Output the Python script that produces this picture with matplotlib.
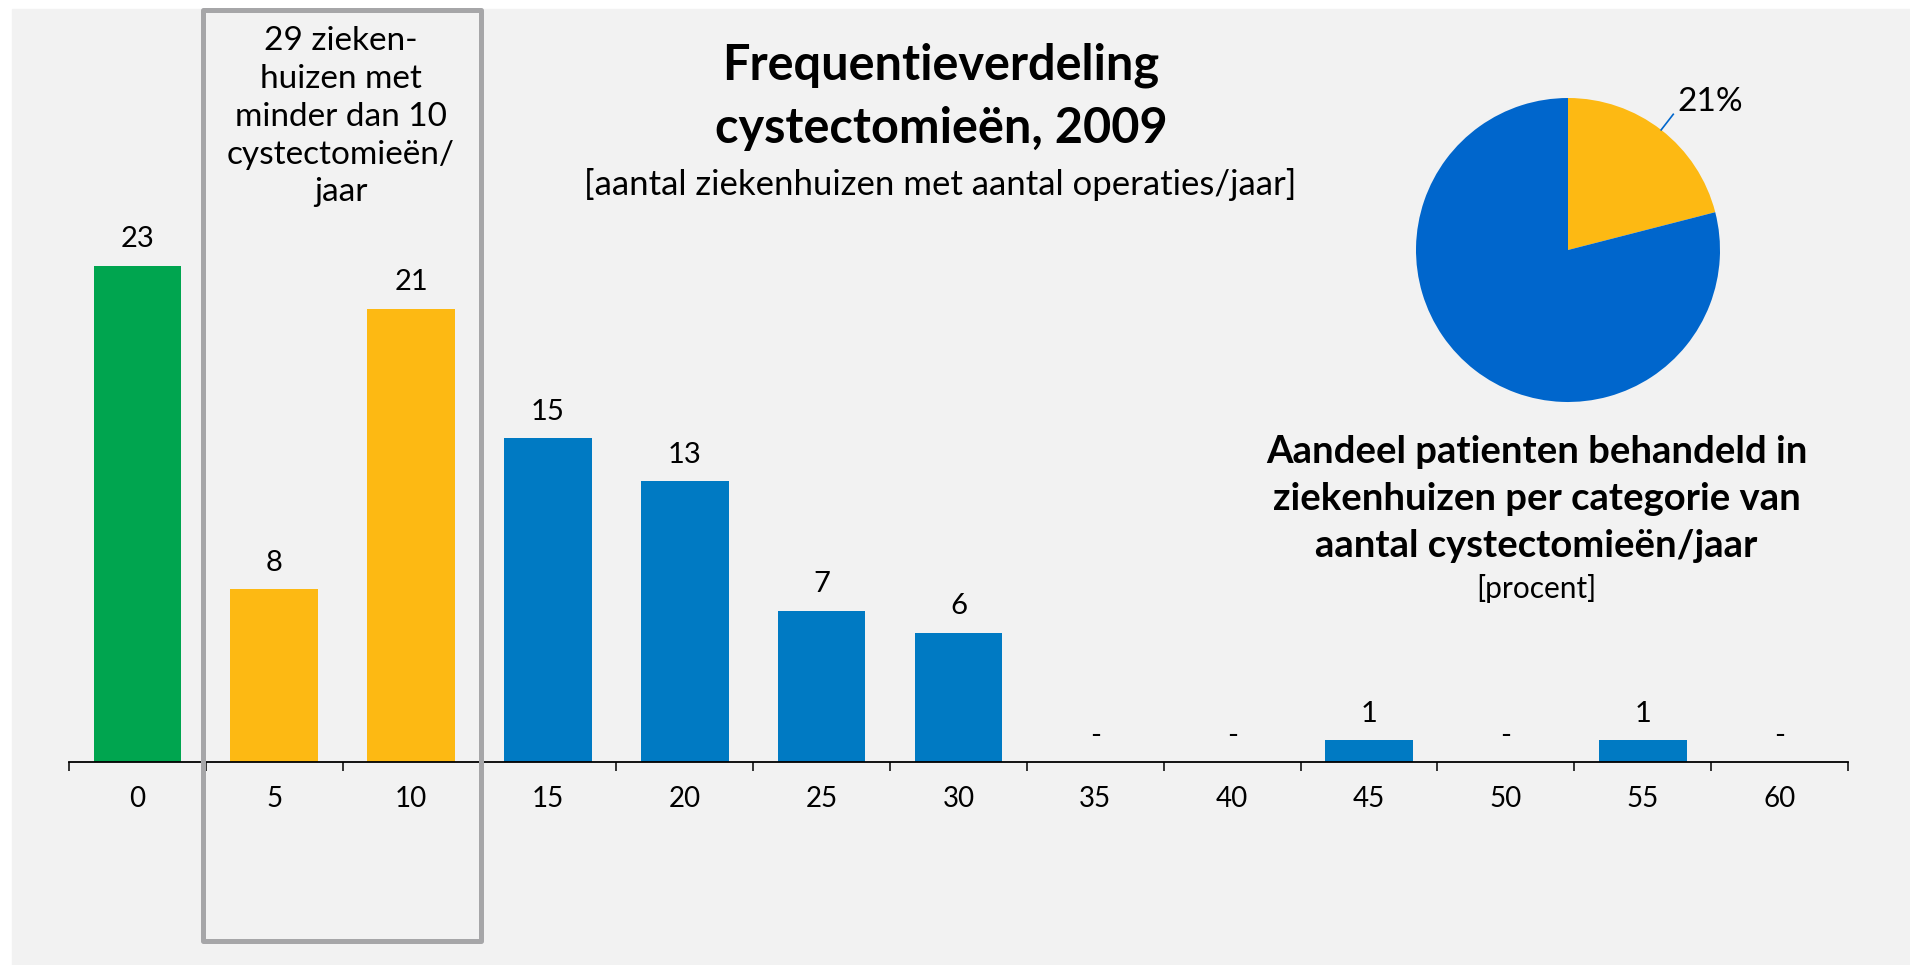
import matplotlib.pyplot as plt
import numpy as np
from matplotlib.patches import Rectangle

plt.rcParams['font.family'] = ['Lato', 'DejaVu Sans']

# Aantal ziekenhuizen per klasse van aantal cystectomieën per jaar (2009)
klassen = [0, 5, 10, 15, 20, 25, 30, 35, 40, 45, 50, 55, 60]
aantal_ziekenhuizen = [23, 8, 21, 15, 13, 7, 6, 0, 0, 1, 0, 1, 0]

# Aandeel patiënten in ziekenhuizen met < 10 resp. >= 10 cystectomieën/jaar
aandeel_labels = ['< 10', '>= 10']
aandeel_pct = [21, 79]

GROEN = '#00A54F'
GEEL = '#FDB913'
BLAUW = '#007AC3'
BLAUW_TAART = '#0066CC'
GRIJS_KADER = '#A6A6A8'

W, H = 1910, 965


def fx(px):
    return px / W


def fy(py):
    return 1 - py / H


def kleur(klasse):
    if klasse == 0:
        return GROEN
    if klasse <= 10:
        return GEEL
    return BLAUW


fig = plt.figure(figsize=(W / 100, H / 100), dpi=100, facecolor='white')
fig.patches.append(Rectangle((fx(12), 0), 1, fy(9), transform=fig.transFigure,
                             color='#F2F2F2', zorder=-10))

# Staafdiagram
ax = fig.add_axes([fx(69), fy(762), (1848 - 69) / W, (762 - 9) / H])
ax.patch.set_alpha(0)
x = np.arange(len(klassen))
ax.bar(x, aantal_ziekenhuizen, width=0.64, color=[kleur(k) for k in klassen])
ax.set_xlim(-0.5, len(klassen) - 0.5)
ax.set_ylim(0, 753 / 21.58)

for side in ['top', 'left', 'right']:
    ax.spines[side].set_visible(False)
ax.spines['bottom'].set_linewidth(1.3)
ax.set_yticks([])
ax.set_xticks(x, [str(k) for k in klassen])
ax.set_xticks(np.arange(-0.5, len(klassen)), minor=True)
ax.tick_params(axis='x', which='major', length=0, pad=17.5, labelsize=20)
ax.tick_params(axis='x', which='minor', length=6.5, width=1.1)

for xi, v in zip(x, aantal_ziekenhuizen):
    ax.annotate(str(v) if v else '-', (xi, v), xytext=(0, 13.3),
                textcoords='offset points', ha='center', va='baseline', fontsize=21)

# Kader rond de kleine ziekenhuizen
fig.patches.append(Rectangle((fx(203), fy(940.5)), (481 - 203) / W, (940.5 - 9.5) / H,
                             transform=fig.transFigure, fill=False, ec=GRIJS_KADER,
                             lw=3.6, joinstyle='round', zorder=5))
kader_tekst = ['29 zieken-', 'huizen met', 'minder dan 10', 'cystectomieën/', 'jaar']
for regel, base in zip(kader_tekst, [50, 87.5, 126.5, 163.5, 201]):
    fig.text(fx(341), fy(base), regel, ha='center', va='baseline', fontsize=24)

# Titel
for regel, base in zip(['Frequentieverdeling', 'cystectomieën, 2009'], [80, 143]):
    fig.text(fx(941), fy(base), regel, ha='center', va='baseline',
             fontsize=35, fontweight='bold')
fig.text(fx(940), fy(195), '[aantal ziekenhuizen met aantal operaties/jaar]',
         ha='center', va='baseline', fontsize=25)

# Taartdiagram
r = 152
pax = fig.add_axes([fx(1568 - r), fy(250 + r), 2 * r / W, 2 * r / H])
pax.pie(aandeel_pct, colors=[GEEL, BLAUW_TAART], startangle=90, counterclock=False,
        wedgeprops={'linewidth': 0})
pax.set_xlim(-1, 1)
pax.set_ylim(-1, 1)
pax.set_aspect('equal')

hoek = np.deg2rad(90 - aandeel_pct[0] * 3.6 / 2)
p0 = np.array([np.cos(hoek), np.sin(hoek)])
p1 = p0 * 1.13
pax.plot([p0[0], p1[0]], [p0[1], p1[1]], color=BLAUW_TAART, lw=1.2, clip_on=False)
pax.text(p1[0] + 0.03, p1[1] + 0.08, f'{aandeel_pct[0]}%', ha='left', va='center',
         fontsize=24)

onderschrift = ['Aandeel patienten behandeld in', 'ziekenhuizen per categorie van',
                'aantal cystectomieën/jaar']
for regel, base in zip(onderschrift, [463, 510, 557]):
    fig.text(fx(1536.5), fy(base), regel, ha='center', va='baseline',
             fontsize=27.5, fontweight='bold')
fig.text(fx(1536.5), fy(598), '[procent]', ha='center', va='baseline', fontsize=21.5)

fig.savefig('out.png', dpi=100, facecolor=fig.get_facecolor())
